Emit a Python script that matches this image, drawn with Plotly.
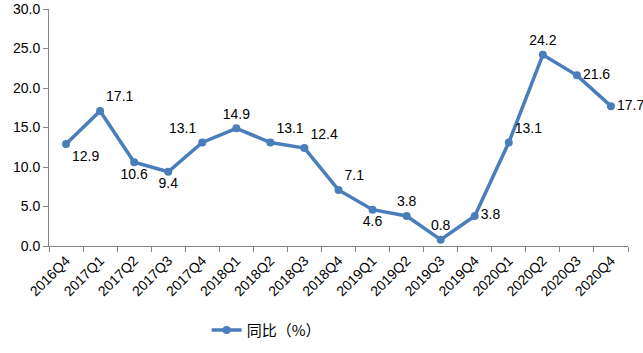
import plotly.graph_objects as go

categories = ["2016Q4", "2017Q1", "2017Q2", "2017Q3", "2017Q4", "2018Q1", "2018Q2",
              "2018Q3", "2018Q4", "2019Q1", "2019Q2", "2019Q3", "2019Q4", "2020Q1",
              "2020Q2", "2020Q3", "2020Q4"]
values = [12.9, 17.1, 10.6, 9.4, 13.1, 14.9, 13.1, 12.4, 7.1, 4.6, 3.8, 0.8, 3.8, 13.1, 24.2, 21.6, 17.7]
label_pos = ["bottom right", "top right", "bottom center", "bottom center", "top left",
             "top center", "top right", "top right", "top right", "bottom center",
             "top center", "top center", "middle right", "top right", "top center",
             "middle right", "middle right"]
series_name = "同比（%）"

color = "#4A7EBB"
font_family = "Liberation Sans, Arial, Noto Sans CJK SC, sans-serif"

fig = go.Figure()
fig.add_trace(go.Scatter(
    x=categories, y=values, name=series_name,
    mode="lines+markers+text",
    line=dict(color=color, width=3.5),
    marker=dict(color=color, size=8),
    text=[f"{v:.1f}" for v in values],
    textposition=label_pos,
    textfont=dict(size=14, color="#000000", family=font_family),
    cliponaxis=False,
))

fig.update_layout(
    width=643, height=353,
    margin=dict(l=49, r=15, t=9, b=107, autoexpand=False),
    plot_bgcolor="white", paper_bgcolor="white",
    font=dict(family=font_family, size=14, color="#000000"),
    showlegend=True,
    legend=dict(orientation="h", x=0.375, xanchor="center", y=-0.355, yanchor="middle",
                font=dict(size=15, family="Noto Sans CJK SC, sans-serif")),
    xaxis=dict(
        type="category", tickangle=-45, tickson="boundaries",
        range=[-0.5, len(categories) - 0.5],
        ticks="outside", ticklen=5, tickcolor="#868686",
        showline=True, linecolor="#868686", linewidth=1,
        showgrid=False, tickfont=dict(size=14), automargin=False,
    ),
    yaxis=dict(
        range=[0, 30], dtick=5, tickformat=".1f",
        ticks="outside", ticklen=5, tickcolor="#868686",
        showline=True, linecolor="#868686", linewidth=1,
        showgrid=False, zeroline=False, tickfont=dict(size=14), automargin=False,
    ),
)

fig.write_html("out.html")
